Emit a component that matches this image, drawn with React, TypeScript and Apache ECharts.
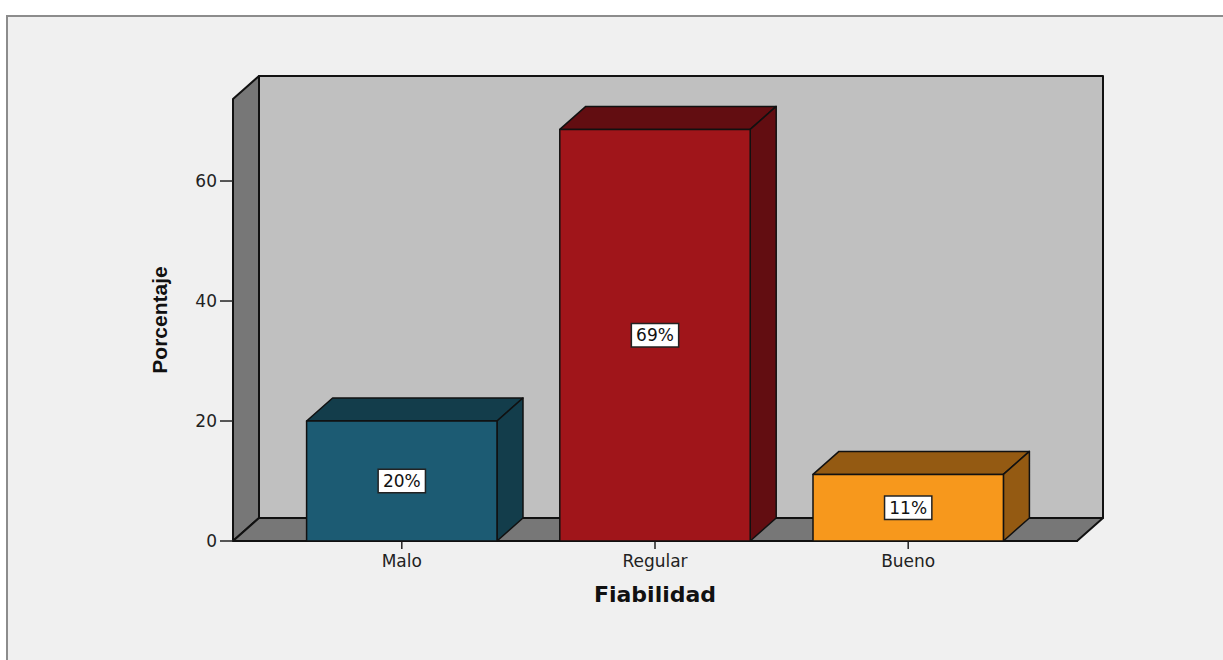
import React, { useEffect, useRef } from "react";
import * as echarts from "echarts";

const categories = ["Malo", "Regular", "Bueno"];
const values = [20.0, 68.6, 11.1];
const yTicks = [0, 20, 40, 60];

const frontColors = ["#1c5b73", "#a0151a", "#f7981c"];
const darkColors = ["#133d4b", "#620d11", "#945a12"];

const X_MIN = -2 / 3;
const X_MAX = 8 / 3;
const Y_MAX = 73.67;
const DX = 26;
const DY = -23;
const HALF_W = 0.376;
const FONT = "'DejaVu Sans', Verdana, sans-serif";

export default function App() {
  const ref = useRef<HTMLDivElement>(null);
  useEffect(() => {
    document.body.style.margin = "0";
    const chart = echarts.init(ref.current!, undefined, { renderer: "svg" });
    const off = (p: number[]) => [p[0] + DX, p[1] + DY];
    chart.setOption({
      animation: false,
      backgroundColor: "#ffffff",
      graphic: [
        {
          type: "rect",
          z: -10,
          silent: true,
          shape: { x: 7, y: 16, width: 1240, height: 700 },
          style: { fill: "#f0f0f0", stroke: "#8c8c8c", lineWidth: 2 },
        },
      ],
      grid: { left: 233, right: 146, top: 99, bottom: 119 },
      xAxis: {
        type: "value",
        min: X_MIN,
        max: X_MAX,
        splitLine: { show: false },
        axisLine: { show: true, lineStyle: { color: "#111", width: 2 } },
        axisTick: { show: false },
        axisLabel: {
          customValues: [0, 1, 2],
          formatter: (v: number) => categories[Math.round(v)] ?? "",
          fontSize: 17,
          fontFamily: FONT,
          color: "#222",
          margin: 11,
        },
        name: "Fiabilidad",
        nameLocation: "middle",
        nameGap: 42,
        nameTextStyle: { fontSize: 22, fontWeight: "bold", fontFamily: FONT, color: "#111" },
      },
      yAxis: {
        type: "value",
        min: 0,
        max: Y_MAX,
        splitLine: { show: false },
        axisLine: { show: true, lineStyle: { color: "#111", width: 2 } },
        axisTick: { show: false },
        axisLabel: {
          customValues: yTicks,
          fontSize: 17,
          fontFamily: FONT,
          color: "#222",
          margin: 16,
        },
        name: "Porcentaje",
        nameLocation: "middle",
        nameGap: 63,
        nameTextStyle: {
          fontSize: 21,
          fontWeight: "bold",
          fontFamily: "'Liberation Sans', Arial, sans-serif",
          color: "#111",
        },
      },
      series: [
        {
          type: "custom",
          z: 1,
          silent: true,
          data: [[0, 0]],
          renderItem: (_params: any, api: any) => {
            const a = api.coord([X_MIN, 0]);
            const b = api.coord([X_MIN, Y_MAX]);
            const c = api.coord([X_MAX, 0]);
            const stroke = { stroke: "#111", lineWidth: 2, lineJoin: "round" };
            const bt = off(b);
            const ac = off(a);
            const cc = off(c);
            const tickStyle = { stroke: "#222", lineWidth: 1.5 };
            const yTickEls = yTicks.map((t) => {
              const p = api.coord([X_MIN, t]);
              return {
                type: "line",
                shape: { x1: p[0] - 13, y1: p[1], x2: p[0], y2: p[1] },
                style: tickStyle,
              };
            });
            const xTickEls = categories.map((_c, i) => {
              const p = api.coord([i, 0]);
              return {
                type: "line",
                shape: { x1: p[0], y1: p[1], x2: p[0], y2: p[1] + 8 },
                style: tickStyle,
              };
            });
            return {
              type: "group",
              children: [
                {
                  type: "polygon",
                  shape: { points: [bt, [cc[0], bt[1]], cc, ac] },
                  style: { fill: "#c0c0c0", ...stroke },
                },
                {
                  type: "polygon",
                  shape: { points: [a, b, bt, ac] },
                  style: { fill: "#777777", ...stroke },
                },
                {
                  type: "polygon",
                  shape: { points: [a, ac, cc, c] },
                  style: { fill: "#777777", ...stroke },
                },
                ...yTickEls,
                ...xTickEls,
              ],
            };
          },
        },
        {
          type: "custom",
          z: 2,
          data: values.map((v, i) => [i, v]),
          renderItem: (params: any, api: any) => {
            const i = api.value(0);
            const v = api.value(1);
            const idx = params.dataIndex;
            const tl = api.coord([i - HALF_W, v]);
            const br = api.coord([i + HALF_W, 0]);
            const tr = [br[0], tl[1]];
            const bl = [tl[0], br[1]];
            const stroke = { stroke: "#111", lineWidth: 1.5, lineJoin: "round" };
            return {
              type: "group",
              children: [
                {
                  type: "polygon",
                  shape: { points: [tl, off(tl), off(tr), tr] },
                  style: { fill: darkColors[idx], ...stroke },
                },
                {
                  type: "polygon",
                  shape: { points: [tr, off(tr), off(br), br] },
                  style: { fill: darkColors[idx], ...stroke },
                },
                {
                  type: "polygon",
                  shape: { points: [tl, tr, br, bl] },
                  style: { fill: frontColors[idx], ...stroke },
                },
                {
                  type: "text",
                  style: {
                    text: Math.round(v) + "%",
                    x: (tl[0] + br[0]) / 2,
                    y: (tl[1] + br[1]) / 2,
                    align: "center",
                    verticalAlign: "middle",
                    fontSize: 17,
                    fontFamily: FONT,
                    fill: "#111",
                    backgroundColor: "#ffffff",
                    borderColor: "#222",
                    borderWidth: 1.5,
                    padding: [3, 4, 2, 4],
                  },
                },
              ],
            };
          },
        },
      ],
    });
    return () => chart.dispose();
  }, []);
  return (
    <div
      ref={ref}
      style={{ position: "fixed", left: 0, top: 0, width: 1223, height: 660 }}
    />
  );
}
